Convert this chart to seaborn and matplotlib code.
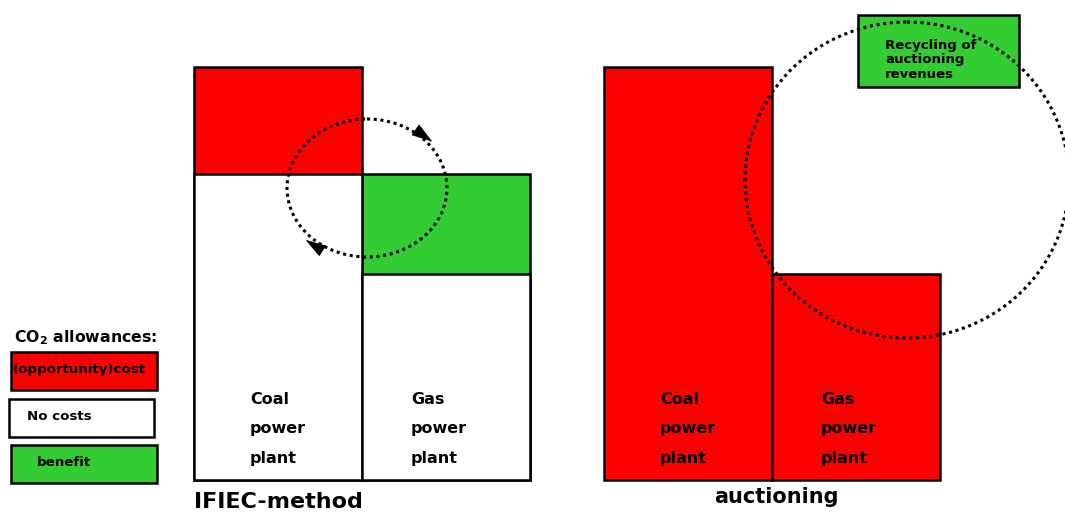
import pandas as pd
import numpy as np
import seaborn as sns
import matplotlib.pyplot as plt
from matplotlib.patches import Ellipse, Rectangle

# bars: one per plant and method, height in % of the coal plant's total
methods = ['IFIEC-method', 'IFIEC-method', 'auctioning', 'auctioning']
plants = ['Coal', 'Gas', 'Coal', 'Gas']
base_height = [74, 50, 100, 50]
base_kind = ['none', 'none', 'cost', 'cost']
top_height = [26, 24, 0, 0]
top_kind = ['cost', 'benefit', 'cost', 'cost']

legend_labels = ['(opportunity)cost', 'No costs', 'benefit']
legend_kinds = ['cost', 'none', 'benefit']
recycling_label = 'Recycling of\nauctioning\nrevenues'

colors = {'cost': '#ff0000', 'none': '#ffffff', 'benefit': '#33cc33'}

# layout (pixels)
W, H = 1065, 512
bar_x = [278, 446, 688, 856]
label_offset = {'Coal': -28, 'Gas': -35}
baseline_px = 480
px_per_unit = 4.13

df = pd.DataFrame({'method': methods, 'plant': plants, 'x': bar_x,
                   'base': base_height, 'base_kind': base_kind,
                   'top': top_height, 'top_kind': top_kind})
df['total'] = df['base'] + df['top']

sns.set_theme(style='white')
plt.rcParams['font.family'] = ['DejaVu Sans']

fig = plt.figure(figsize=(W / 100, H / 100), dpi=100)
ax = fig.add_axes([0, 0, 1, 1])

edge = dict(edgecolor='black', linewidth=1.8)
stacked = df[df['top'] > 0]
sns.barplot(data=stacked, x='x', y='total', hue='top_kind', palette=colors,
            native_scale=True, dodge=False, width=1, errorbar=None,
            saturation=1, legend=False, ax=ax, **edge)
sns.barplot(data=df, x='x', y='base', hue='base_kind', palette=colors,
            native_scale=True, dodge=False, width=1, errorbar=None,
            saturation=1, legend=False, ax=ax, **edge)
ax.set_xlim(0, W)
ax.set_ylim(-(H - baseline_px) / px_per_unit, baseline_px / px_per_unit)
ax.axis('off')

# overlay in pixel coordinates for the annotations
ov = fig.add_axes([0, 0, 1, 1])
ov.set_xlim(0, W)
ov.set_ylim(H, 0)
ov.axis('off')
ov.patch.set_alpha(0)

bold = dict(fontweight='bold', color='black')

# plant labels inside bars
for (_, r) in df.iterrows():
    lx = r['x'] + label_offset[r['plant']]
    for i, word in enumerate([r['plant'], 'power', 'plant']):
        ov.text(lx, 400 + 29 * i, word, fontsize=11.5, va='center', ha='left', **bold)

ov.text(278, 502, 'IFIEC-method', fontsize=16, va='center', ha='center', **bold)
ov.text(776, 497, 'auctioning', fontsize=15, va='center', ha='center', **bold)

# legend
ov.text(14, 338, r'CO$_{\mathbf{2}}$ allowances:', fontsize=11.3, va='center', **bold)
legend_boxes = [(11, 352, 146), (9, 399, 145), (11, 445, 146)]
text_x = [13, 27, 37]
for (bx, by, bw), lab, kind, tx in zip(legend_boxes, legend_labels, legend_kinds, text_x):
    ov.add_patch(Rectangle((bx, by), bw, 38, facecolor=colors[kind],
                           edgecolor='black', linewidth=1.8))
    ov.text(tx, by + 17, lab, fontsize=9.6, va='center', ha='left', **bold)

# recycling box
ov.add_patch(Rectangle((858, 15), 161, 72, facecolor=colors['benefit'],
                       edgecolor='black', linewidth=1.8))
ov.text(885, 60, recycling_label, fontsize=9.5, va='center', ha='left',
        linespacing=1.2, **bold)

# dotted circles
dots = dict(fill=False, edgecolor='black', linewidth=2.2, linestyle=(0, (1, 1.2)))
ov.add_patch(Ellipse((367, 188), 160, 138, **dots))
ov.add_patch(Ellipse((907, 180), 324, 316, **dots))


def arrow_head(angle_deg):
    # narrow triangle pointing along +x, rotated (display degrees)
    pts = np.array([[1.0, 0.0], [-0.6, 0.5], [-0.6, -0.5]])
    a = np.deg2rad(angle_deg)
    rot = np.array([[np.cos(a), -np.sin(a)], [np.sin(a), np.cos(a)]])
    return [tuple(p) for p in pts @ rot.T]


# arrow heads on the small circle (clockwise)
ov.plot(421, 134, marker=arrow_head(-35), markersize=14, color='black', zorder=5)
ov.plot(316, 246, marker=arrow_head(147), markersize=14, color='black', zorder=5)

fig.savefig('out.png', dpi=100)
